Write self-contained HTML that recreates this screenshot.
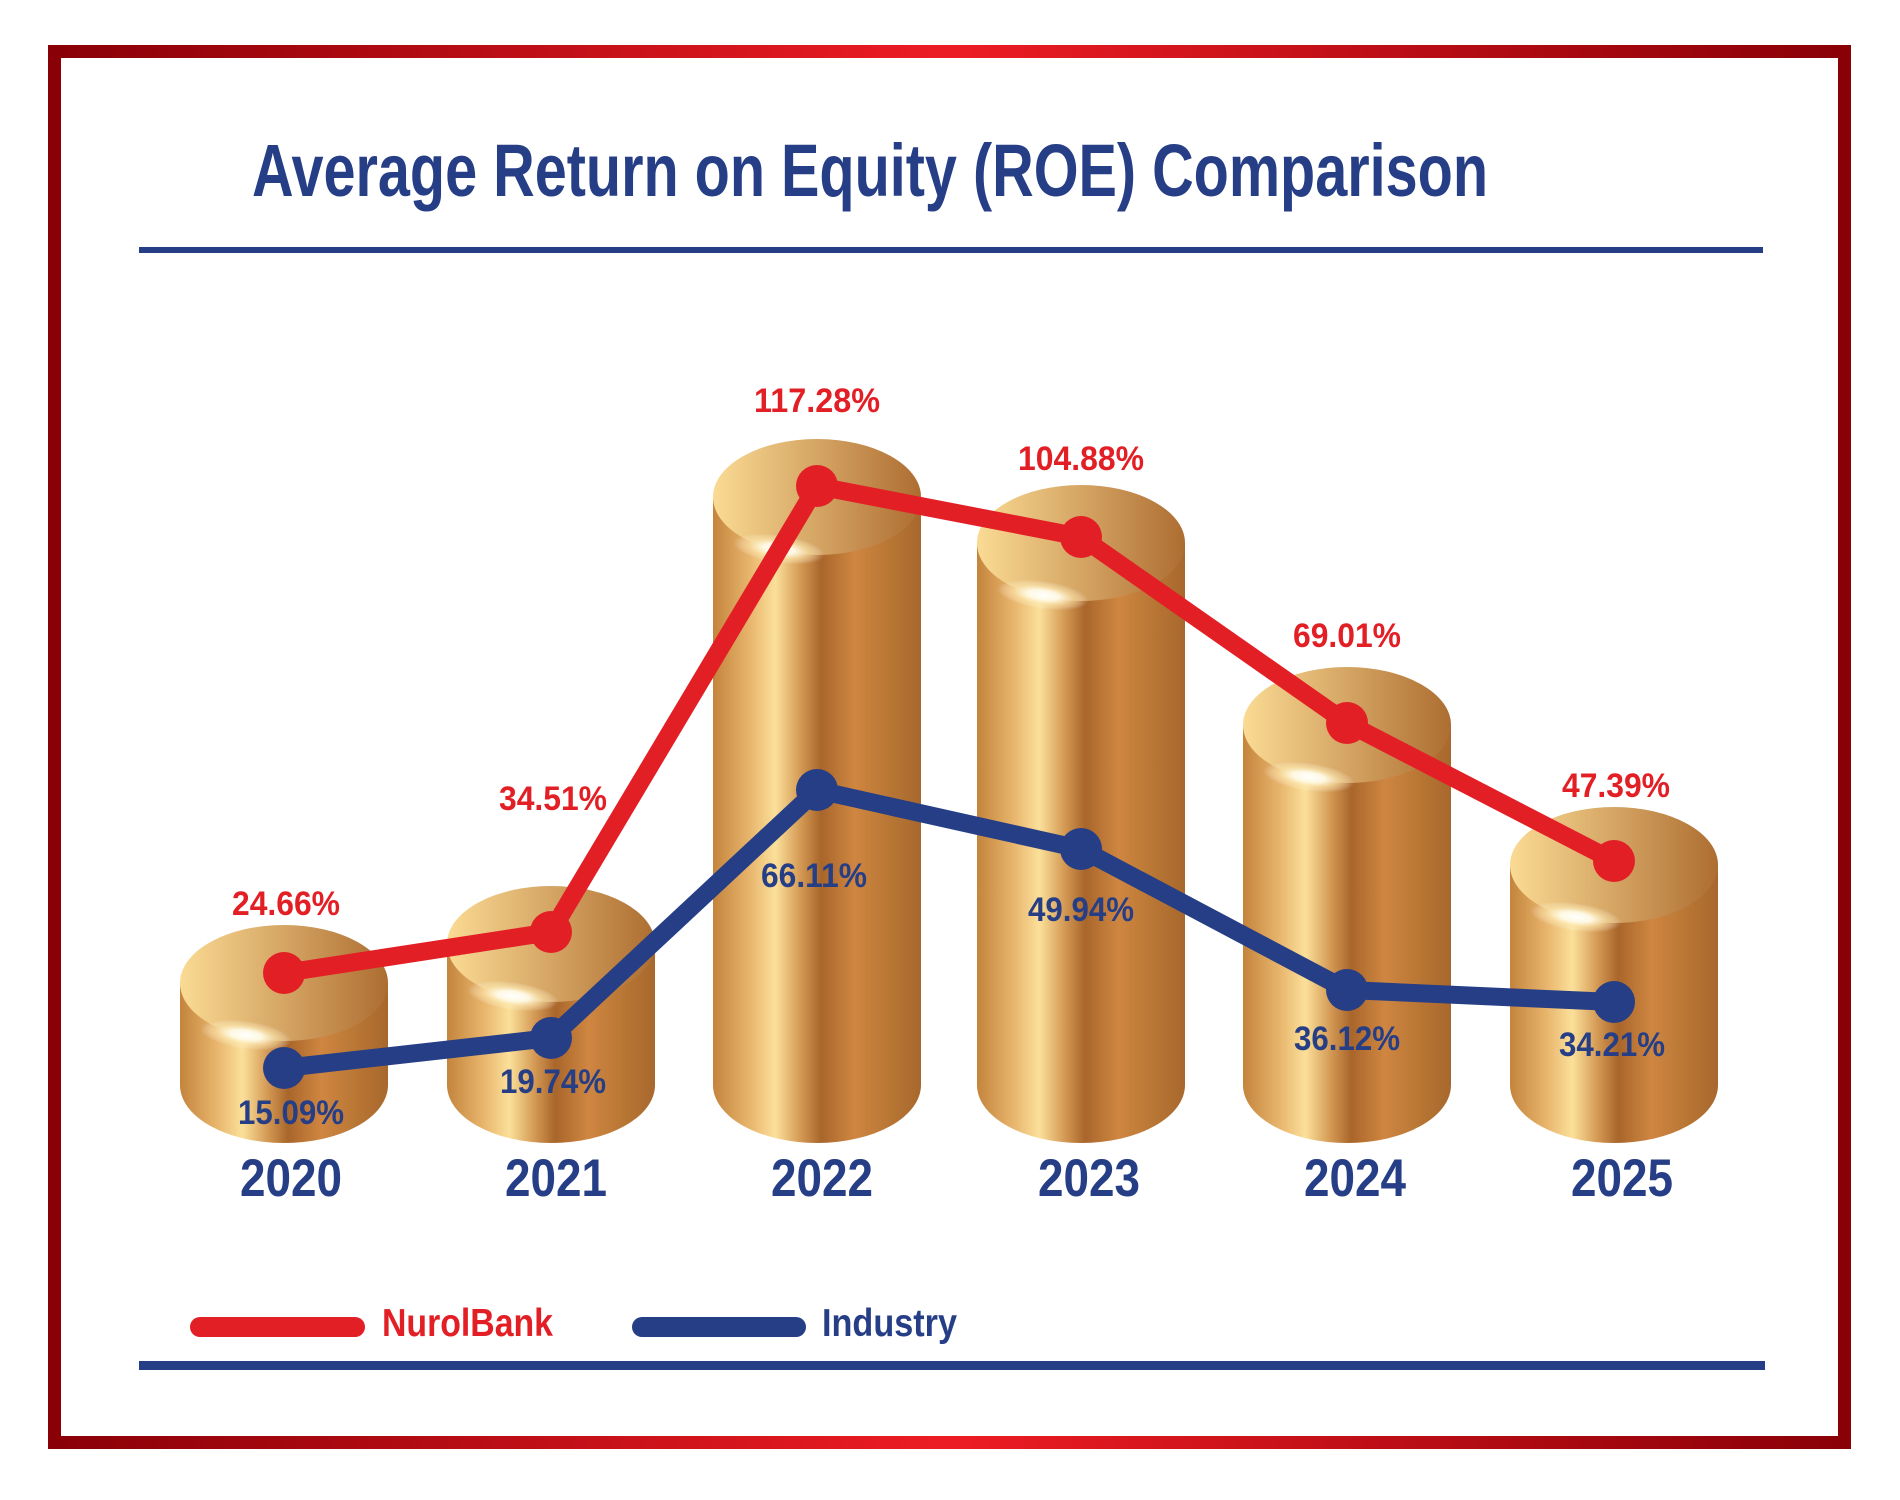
<!DOCTYPE html>
<html><head><meta charset="utf-8"><style>html,body{margin:0;padding:0;background:#fff}svg{display:block}</style></head>
<body>
<svg width="1900" height="1500" viewBox="0 0 1900 1500" xmlns="http://www.w3.org/2000/svg" font-family="'Liberation Sans', sans-serif" font-weight="bold">
<defs>
<linearGradient id="bd" x1="0" x2="1" y1="0" y2="0">
<stop offset="0" stop-color="#8a0007"/><stop offset="0.5" stop-color="#ed1c24"/><stop offset="1" stop-color="#8a0007"/>
</linearGradient>
<linearGradient id="body" x1="0" x2="1" y1="0" y2="0">
<stop offset="0" stop-color="#c4843c"/><stop offset="0.18" stop-color="#e9b66e"/><stop offset="0.3" stop-color="#fbe09a"/>
<stop offset="0.42" stop-color="#d49a55"/><stop offset="0.52" stop-color="#a9662b"/><stop offset="0.68" stop-color="#cf8641"/>
<stop offset="0.85" stop-color="#b87634"/><stop offset="1" stop-color="#a8682d"/>
</linearGradient>
<linearGradient id="top" x1="0" x2="1" y1="0" y2="0">
<stop offset="0" stop-color="#fadb94"/><stop offset="0.5" stop-color="#d5a564"/><stop offset="1" stop-color="#ad6d31"/>
</linearGradient>
<radialGradient id="gl"><stop offset="0" stop-color="#fff" stop-opacity="1"/><stop offset="0.35" stop-color="#fffbe8" stop-opacity="0.95"/><stop offset="0.7" stop-color="#ffeab0" stop-opacity="0.5"/><stop offset="1" stop-color="#fff" stop-opacity="0"/></radialGradient>
</defs>
<rect x="0" y="0" width="1900" height="1500" fill="#fff"/>
<rect x="54.5" y="51.5" width="1790" height="1391" fill="none" stroke="url(#bd)" stroke-width="13"/>
<text x="870" y="196" fill="#263e86" font-size="74" text-anchor="middle" textLength="1236" lengthAdjust="spacingAndGlyphs">Average Return on Equity (ROE) Comparison</text>
<rect x="139" y="247" width="1624" height="6" fill="#263e86"/>
<rect x="139" y="1361" width="1626" height="9" fill="#263e86"/>

<g>
<path d="M180 983 V1085 A104 58 0 0 0 388 1085 V983 Z" fill="url(#body)"/><ellipse cx="284" cy="983" rx="104" ry="58" fill="url(#top)"/><ellipse cx="246" cy="1035" rx="46" ry="14" fill="url(#gl)" transform="rotate(8 246 1035)"/>
<path d="M447 944 V1085 A104 58 0 0 0 655 1085 V944 Z" fill="url(#body)"/><ellipse cx="551" cy="944" rx="104" ry="58" fill="url(#top)"/><ellipse cx="513" cy="996" rx="46" ry="14" fill="url(#gl)" transform="rotate(8 513 996)"/>
<path d="M713 497 V1085 A104 58 0 0 0 921 1085 V497 Z" fill="url(#body)"/><ellipse cx="817" cy="497" rx="104" ry="58" fill="url(#top)"/><ellipse cx="779" cy="549" rx="46" ry="14" fill="url(#gl)" transform="rotate(8 779 549)"/>
<path d="M977 543 V1085 A104 58 0 0 0 1185 1085 V543 Z" fill="url(#body)"/><ellipse cx="1081" cy="543" rx="104" ry="58" fill="url(#top)"/><ellipse cx="1043" cy="595" rx="46" ry="14" fill="url(#gl)" transform="rotate(8 1043 595)"/>
<path d="M1243 725 V1085 A104 58 0 0 0 1451 1085 V725 Z" fill="url(#body)"/><ellipse cx="1347" cy="725" rx="104" ry="58" fill="url(#top)"/><ellipse cx="1309" cy="777" rx="46" ry="14" fill="url(#gl)" transform="rotate(8 1309 777)"/>
<path d="M1510 865 V1085 A104 58 0 0 0 1718 1085 V865 Z" fill="url(#body)"/><ellipse cx="1614" cy="865" rx="104" ry="58" fill="url(#top)"/><ellipse cx="1576" cy="917" rx="46" ry="14" fill="url(#gl)" transform="rotate(8 1576 917)"/>
</g>

<polyline points="284,973 551,932 817,486 1081,537 1347,723 1614,861" fill="none" stroke="#e31f26" stroke-width="18" stroke-linejoin="round"/>
<g fill="#e31f26"><circle cx="284" cy="973" r="21"/><circle cx="551" cy="932" r="21"/><circle cx="817" cy="486" r="21"/><circle cx="1081" cy="537" r="21"/><circle cx="1347" cy="723" r="21"/><circle cx="1614" cy="861" r="21"/></g>
<polyline points="284,1068 551,1038 817,790 1081,849 1347,990 1614,1002" fill="none" stroke="#263e86" stroke-width="18" stroke-linejoin="round"/>
<g fill="#263e86"><circle cx="284" cy="1068" r="21"/><circle cx="551" cy="1038" r="21"/><circle cx="817" cy="790" r="21"/><circle cx="1081" cy="849" r="21"/><circle cx="1347" cy="990" r="21"/><circle cx="1614" cy="1002" r="21"/></g>

<g fill="#e31f26" font-size="34" text-anchor="middle">
<text x="286" y="915" textLength="108" lengthAdjust="spacingAndGlyphs">24.66%</text>
<text x="553" y="810" textLength="108" lengthAdjust="spacingAndGlyphs">34.51%</text>
<text x="817" y="412" textLength="126" lengthAdjust="spacingAndGlyphs">117.28%</text>
<text x="1081" y="470" textLength="126" lengthAdjust="spacingAndGlyphs">104.88%</text>
<text x="1347" y="647" textLength="108" lengthAdjust="spacingAndGlyphs">69.01%</text>
<text x="1616" y="797" textLength="108" lengthAdjust="spacingAndGlyphs">47.39%</text>
</g>
<g fill="#263e86" font-size="34" text-anchor="middle">
<text x="291" y="1124" textLength="106" lengthAdjust="spacingAndGlyphs">15.09%</text>
<text x="553" y="1093" textLength="106" lengthAdjust="spacingAndGlyphs">19.74%</text>
<text x="814" y="887" textLength="106" lengthAdjust="spacingAndGlyphs">66.11%</text>
<text x="1081" y="921" textLength="106" lengthAdjust="spacingAndGlyphs">49.94%</text>
<text x="1347" y="1050" textLength="106" lengthAdjust="spacingAndGlyphs">36.12%</text>
<text x="1612" y="1056" textLength="106" lengthAdjust="spacingAndGlyphs">34.21%</text>
</g>
<g fill="#263e86" font-size="53" text-anchor="middle">
<text x="291" y="1196" textLength="102" lengthAdjust="spacingAndGlyphs">2020</text>
<text x="556" y="1196" textLength="102" lengthAdjust="spacingAndGlyphs">2021</text>
<text x="822" y="1196" textLength="102" lengthAdjust="spacingAndGlyphs">2022</text>
<text x="1089" y="1196" textLength="102" lengthAdjust="spacingAndGlyphs">2023</text>
<text x="1355" y="1196" textLength="102" lengthAdjust="spacingAndGlyphs">2024</text>
<text x="1622" y="1196" textLength="102" lengthAdjust="spacingAndGlyphs">2025</text>
</g>
<line x1="200" y1="1327" x2="355" y2="1327" stroke="#e31f26" stroke-width="20" stroke-linecap="round"/>
<text x="382" y="1336" fill="#e31f26" font-size="39" textLength="171" lengthAdjust="spacingAndGlyphs">NurolBank</text>
<line x1="642" y1="1327" x2="796" y2="1327" stroke="#263e86" stroke-width="20" stroke-linecap="round"/>
<text x="822" y="1336" fill="#263e86" font-size="39" textLength="135" lengthAdjust="spacingAndGlyphs">Industry</text>
</svg>
</body></html>
